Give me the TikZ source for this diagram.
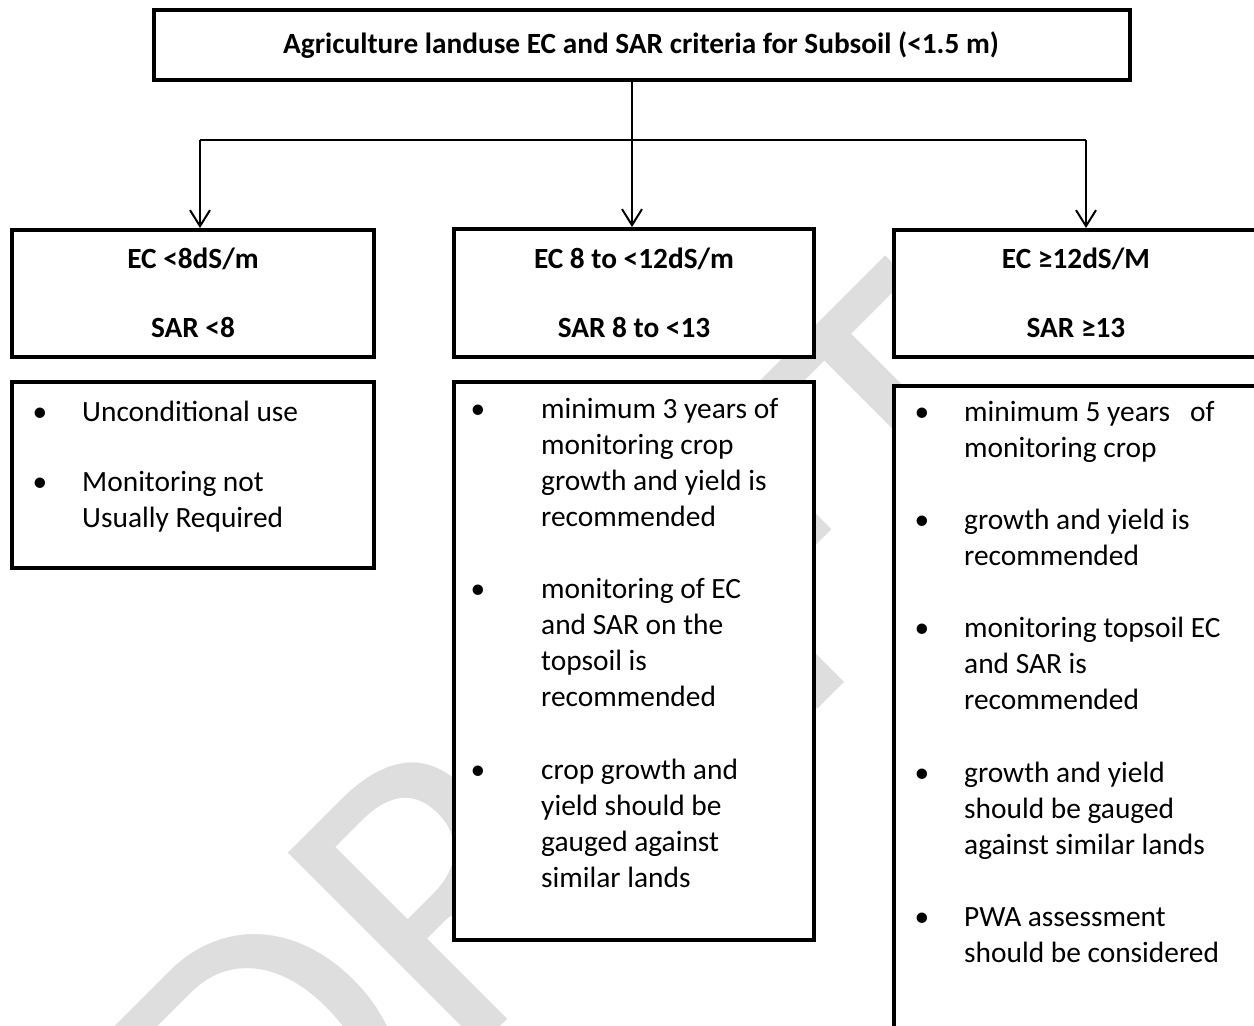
\documentclass[tikz,border=0pt]{standalone}
\usepackage{fontspec}
\setmainfont{Carlito}
\usetikzlibrary{arrows.meta}
\definecolor{wmgray}{RGB}{222,222,222}
\begin{document}
\begin{tikzpicture}[x=1pt,y=-1pt,
  box/.style={draw=black, line width=4pt, fill=white, rectangle, inner sep=0pt},
  conn/.style={line width=2pt, draw=black},
  arr/.style={conn, -{Straight Barb[length=16pt,width=20pt,line width=2pt]}},
  hdr/.style={font=\bfseries\fontsize{29.3}{35}\selectfont, anchor=base, inner sep=0pt},
  body/.style={font=\fontsize{29.4}{36}\selectfont, anchor=base west, inner sep=0pt},
  bul/.style={font=\fontsize{29.4}{36}\selectfont, anchor=base, inner sep=0pt},
  wm/.style={font=\fontsize{425}{425}\selectfont, text=wmgray, rotate=45, anchor=base west, inner sep=0pt}
]
\useasboundingbox (0,0) rectangle (1254,1026);
% watermark
\node[wm] (wm) at (275,1252) {DRAFT};
% boxes
\node[box, minimum width=976pt, minimum height=70pt] (top) at (642,45) {};
\node[box, minimum width=362pt, minimum height=127pt] (hdr1) at (193,293.5) {};
\node[box, minimum width=360pt, minimum height=128pt] (hdr2) at (634,293) {};
\node[box, minimum width=366pt, minimum height=127pt] (hdr3) at (1077,293.5) {};
\node[box, minimum width=362pt, minimum height=186pt] (body1) at (193,475) {};
\node[box, minimum width=360pt, minimum height=558pt] (body2) at (634,661) {};
\node[box, minimum width=368pt, minimum height=664pt] (body3) at (1078,718) {};
% connectors
\coordinate (j) at (632,140);
\coordinate (jl) at (200,140);
\coordinate (jr) at (1086,140);
\draw[arr] (top.south -| j) -- (hdr2.north -| j);
\draw[conn] (jl) -- (jr);
\draw[arr] (jl) -- (hdr1.north -| jl);
\draw[arr] (jr) -- (hdr3.north -| jr);
% title and headers
\node[hdr] (title) at (641,53) {Agriculture landuse EC and SAR criteria for Subsoil (<1.5 m)};
\node[hdr] (h1a) at (193,268.5) {EC <8dS/m};
\node[hdr] (h1b) at (193,337) {SAR <8};
\node[hdr] (h2a) at (634,268.5) {EC 8 to <12dS/m};
\node[hdr] (h2b) at (634,337) {SAR 8 to <13};
\node[hdr] (h3a) at (1076,268.5) {EC ≥12dS/M};
\node[hdr] (h3b) at (1076,337) {SAR ≥13};
% left body
\node[bul] (lb1) at (40,421) {•};
\node[bul] (lb2) at (40,491.5) {•};
\node[body] (l1) at (82,421) {Unconditional use};
\node[body] (l2) at (82,491.5) {Monitoring not};
\node[body] (l3) at (82,527) {Usually Required};
% middle body
\foreach \i in {0,5,10} \node[bul] (mb\i) at (478,{418+36.1*\i}) {•};
\foreach \i/\t in {0/minimum 3 years of,1/monitoring crop,2/growth and yield is,3/recommended,
  5/monitoring of EC,6/and SAR on the,7/topsoil is,8/recommended,
  10/crop growth and,11/yield should be,12/gauged against,13/similar lands}
  \node[body] (m\i) at (541,{418+36.1*\i}) {\t};
% right body
\foreach \i in {0,3,6,10,14} \node[bul] (rb\i) at (922,{421+36.1*\i}) {•};
\foreach \i/\t in {0/minimum 5 years\ \ \ of,1/monitoring crop,3/growth and yield is,4/recommended,
  6/monitoring topsoil EC,7/and SAR is,8/recommended,
  10/growth and yield,11/should be gauged,12/against similar lands,
  14/PWA assessment,15/should be considered}
  \node[body] (r\i) at (964,{421+36.1*\i}) {\t};
\end{tikzpicture}
\end{document}
